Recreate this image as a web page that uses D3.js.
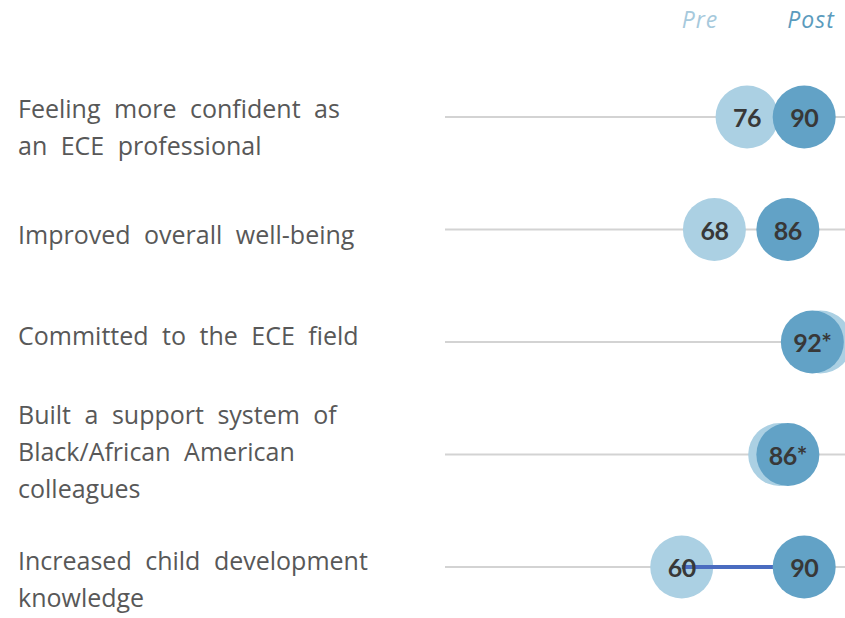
<!DOCTYPE html>
<html>
<head>
<meta charset="utf-8">
<script src="https://cdn.jsdelivr.net/npm/d3@7"></script>
<style>
  body { margin: 0; background: #fff; }
  svg { display: block; }
</style>
</head>
<body>
<div id="graf"></div>
<script>
// data
const categorias = [
  ['Feeling more confident as', 'an ECE professional'],
  ['Improved overall well-being'],
  ['Committed to the ECE field'],
  ['Built a support system of', 'Black/African American', 'colleagues'],
  ['Increased child development', 'knowledge']
]
const preValores  = [76, 68, 94, 84, 60]
const postValores = [90, 86, 92, 86, 90]
const postEtiquetas = ['90', '86', '92*', '86*', '90']
const destacado = [false, false, false, false, true]
const series = ['Pre', 'Post']

// size
ancho = 845
alto = 618
radio = 31.5

svg = d3.select('#graf').append('svg')
  .attr('width', ancho)
  .attr('height', alto)

// scales
x = d3.scaleLinear()
  .domain([2, 100])
  .range([445, 845])

y = d3.scalePoint()
  .domain(d3.range(categorias.length))
  .range([117, 567])

color = d3.scaleOrdinal()
  .domain(series)
  .range(['#abd0e3', '#62a2c6'])

headColor = d3.scaleOrdinal()
  .domain(series)
  .range(['#a6c9dc', '#5b9bbd'])

// label nudges to sit like the original
labelShift = [11, 6, -6, -2, 13]

filas = categorias.map((c, i) => ({
  i: i, lineas: c, pre: preValores[i], post: postValores[i],
  etiqueta: postEtiquetas[i], destacado: destacado[i]
}))

// header Pre / Post
svg.selectAll('text.head')
  .data(series)
  .enter().append('text')
    .attr('class', 'head')
    .attr('x', (d, i) => i == 0 ? 700 : 811)
    .attr('y', 28)
    .attr('text-anchor', 'middle')
    .style('font-family', '"Open Sans", sans-serif')
    .style('font-style', 'italic')
    .style('font-size', '23px')
    .style('letter-spacing', '1px')
    .style('fill', d => headColor(d))
    .text(d => d)

// grey guide lines
svg.selectAll('line.guia')
  .data(filas)
  .enter().append('line')
    .attr('class', 'guia')
    .attr('x1', x(2))
    .attr('x2', x(100))
    .attr('y1', d => y(d.i))
    .attr('y2', d => y(d.i))
    .style('stroke', '#d3d3d3')
    .style('stroke-width', 2)

// labels
etiq = svg.selectAll('text.cat')
  .data(filas)
  .enter().append('text')
    .attr('class', 'cat')
    .attr('x', 18)
    .style('font-family', '"Open Sans", sans-serif')
    .style('font-size', '25px')
    .style('word-spacing', '7px')
    .style('fill', '#585858')

etiq.each(function(d) {
  n = d.lineas.length
  y0 = y(d.i) + labelShift[d.i] - (n - 1) * 37 / 2
  d3.select(this).selectAll('tspan')
    .data(d.lineas)
    .enter().append('tspan')
      .attr('x', 18)
      .attr('y', (l, k) => y0 + k * 37)
      .attr('dy', '0.35em')
      .text(l => l)
})

// pre circles
svg.selectAll('circle.pre')
  .data(filas)
  .enter().append('circle')
    .attr('class', 'pre')
    .attr('cx', d => x(d.pre))
    .attr('cy', d => y(d.i))
    .attr('r', radio)
    .style('fill', color('Pre'))

// connector for the highlighted row
svg.selectAll('line.con')
  .data(filas.filter(d => d.destacado))
  .enter().append('line')
    .attr('class', 'con')
    .attr('x1', d => x(d.pre))
    .attr('x2', d => x(d.post))
    .attr('y1', d => y(d.i))
    .attr('y2', d => y(d.i))
    .style('stroke', '#4a6cc0')
    .style('stroke-width', 4)

// post circles
svg.selectAll('circle.post')
  .data(filas)
  .enter().append('circle')
    .attr('class', 'post')
    .attr('cx', d => x(d.post))
    .attr('cy', d => y(d.i))
    .attr('r', radio)
    .style('fill', color('Post'))

// numbers (pre hidden when it sits behind post)
numStyle = sel => sel
  .attr('text-anchor', 'middle')
  .attr('dy', '0.4em')
  .style('font-family', 'Lato, "Open Sans", sans-serif')
  .style('font-weight', 'bold')
  .style('font-size', '25px')
  .style('letter-spacing', '-0.5px')
  .style('fill', '#383838')

svg.selectAll('text.npre')
  .data(filas.filter(d => Math.abs(x(d.post) - x(d.pre)) > radio * 1.5))
  .enter().append('text')
    .attr('class', 'npre')
    .attr('x', d => x(d.pre))
    .attr('y', d => y(d.i))
    .call(numStyle)
    .text(d => d.pre)

svg.selectAll('text.npost')
  .data(filas)
  .enter().append('text')
    .attr('class', 'npost')
    .attr('x', d => x(d.post))
    .attr('y', d => y(d.i))
    .call(numStyle)
    .text(d => d.etiqueta)
</script>
</body>
</html>
